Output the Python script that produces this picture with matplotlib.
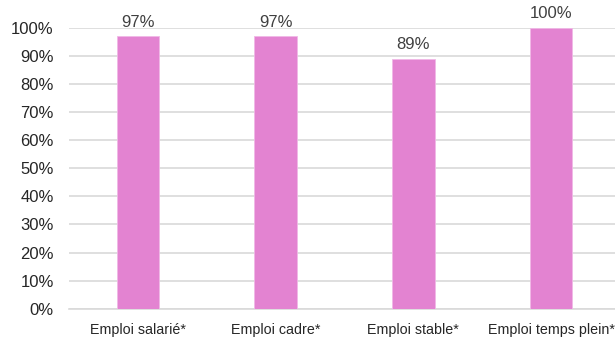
import matplotlib
matplotlib.use("Agg")
import matplotlib.pyplot as plt
from matplotlib.ticker import PercentFormatter

# data
categories = ["Emploi salarié*", "Emploi cadre*", "Emploi stable*", "Emploi temps plein*"]
values = [97, 97, 89, 100]
labels = ["97%", "97%", "89%", "100%"]
yticks = list(range(0, 101, 10))

plt.rcParams["font.family"] = ["Liberation Sans Narrow", "Liberation Sans", "DejaVu Sans"]

fig = plt.figure(figsize=(6.15, 3.38), dpi=100)
# axes runs slightly past the right edge, like the original export
ax = fig.add_axes([69 / 615, 29.3 / 338, 551 / 615, 280.7 / 338])

x = list(range(len(categories)))
ax.bar(x, values, width=0.31, color="#E383D1", edgecolor="#F0B8E6", linewidth=0.6, zorder=3)

for xi, v, lab in zip(x, values, labels):
    ax.annotate(lab, (xi, v), xytext=(0, 7), textcoords="offset points",
                ha="center", va="baseline", fontsize=12, color="#404040")

ax.set_xlim(-0.5, len(categories) - 0.5)
ax.set_ylim(0, 100)
ax.set_yticks(yticks)
ax.yaxis.set_major_formatter(PercentFormatter(decimals=0))
ax.set_xticks(x)
ax.set_xticklabels(categories)

ax.grid(axis="y", color="#D9D9D9", linewidth=1.2, zorder=0)
for side in ["top", "right", "left"]:
    ax.spines[side].set_visible(False)
ax.spines["bottom"].set_color("#D9D9D9")
ax.spines["bottom"].set_linewidth(1.2)

ax.tick_params(axis="y", length=0, pad=11, labelsize=12, labelcolor="#262626")
ax.tick_params(axis="x", length=0, pad=10, labelsize=10.3, labelcolor="#262626")

fig.savefig("out.png", dpi=100)
